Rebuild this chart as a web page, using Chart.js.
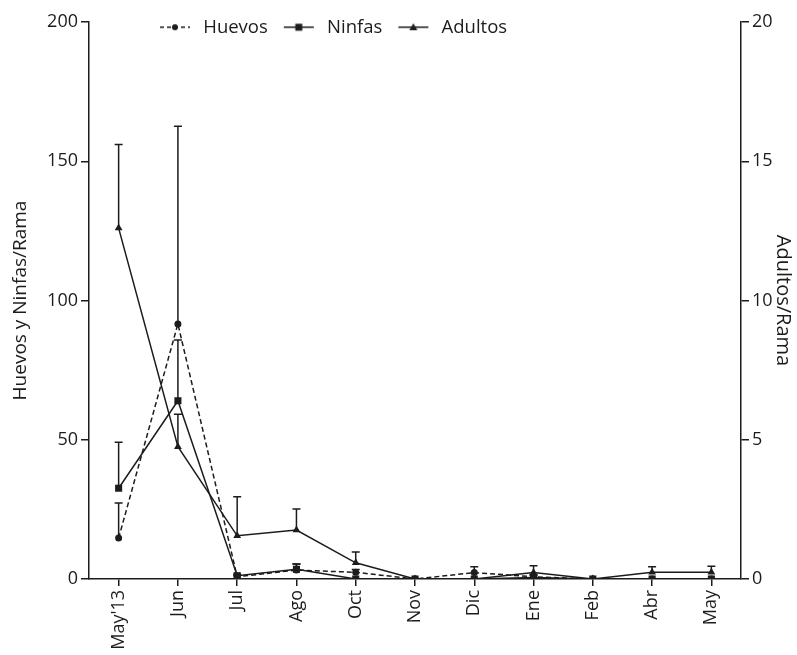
<!DOCTYPE html>
<html>
<head>
<meta charset="utf-8">
<script src="https://cdn.jsdelivr.net/npm/chart.js@4/dist/chart.umd.min.js"></script>
<style>
html,body{margin:0;padding:0;background:#fff;}
#wrap{width:797px;height:655px;position:relative;}
</style>
</head>
<body>
<div id="wrap"><canvas id="c" width="797" height="655"></canvas></div>
<script>
const categories = ["May'13","Jun","Jul","Ago","Oct","Nov","Dic","Ene","Feb","Abr","May"];
const huevos     = [14.7, 91.6, 0.8, 3.2, 2.4, 0, 2.3, 0.8, 0, 0, 0];
const huevosErr  = [12.6, 71.0, 0.5, 2.2, 1.0, 0, 2.1, 0.5, 0, 0, 0];
const ninfas     = [32.6, 64.0, 1.2, 3.5, 0, 0, 0, 0.5, 0, 0, 0];
const ninfasErr  = [16.5, 21.8, 0.5, 1.9, 0, 0, 0, 1.0, 0, 0, 0];
const adultos    = [12.6, 4.75, 1.55, 1.76, 0.58, 0, 0, 0.23, 0, 0.24, 0.24];
const adultosErr = [3.0, 1.17, 1.4, 0.75, 0.39, 0, 0, 0.25, 0, 0.2, 0.22];
const leftTicks  = [0, 50, 100, 150, 200];
const rightTicks = [0, 5, 10, 15, 20];

const INK = '#1c1c1c';
const FONT = "'Open Sans', sans-serif";

function legendIcon(style, dashed) {
  const c = document.createElement('canvas');
  c.width = 36; c.height = 12;
  const g = c.getContext('2d');
  g.strokeStyle = INK; g.fillStyle = INK; g.lineWidth = 1.5;
  if (dashed) g.setLineDash([4, 3]);
  g.beginPath(); g.moveTo(2, 6); g.lineTo(32, 6); g.stroke();
  g.setLineDash([]);
  g.beginPath();
  if (style === 'circle') { g.arc(17, 6, 3, 0, Math.PI * 2); }
  else if (style === 'rect') { g.rect(13.5, 2.5, 7, 7); }
  else { g.moveTo(17, 2); g.lineTo(21, 9); g.lineTo(13, 9); g.closePath(); }
  g.fill();
  return c;
}
const icons = [legendIcon('circle', true), legendIcon('rect', false), legendIcon('triangle', false)];

const errorBars = {
  id: 'errorBars',
  beforeDatasetsDraw(chart) {
    const ctx = chart.ctx;
    const xs = chart.scales.x;
    chart.data.datasets.forEach((ds) => {
      if (!ds.err) return;
      const ys = chart.scales[ds.yAxisID];
      ctx.save();
      ctx.strokeStyle = INK; ctx.lineWidth = 1.5; ctx.setLineDash([]);
      ds.data.forEach((v, i) => {
        const e = ds.err[i];
        if (!e) return;
        const x = xs.getPixelForValue(i);
        const y0 = ys.getPixelForValue(v);
        const y1 = ys.getPixelForValue(v + e);
        ctx.beginPath();
        ctx.moveTo(x, y0); ctx.lineTo(x, y1);
        ctx.moveTo(x - 4, y1); ctx.lineTo(x + 4, y1);
        ctx.stroke();
      });
      ctx.restore();
    });
  }
};

const legendPlace = {
  id: 'legendPlace',
  beforeLayout(chart) {
    const lg = chart.legend;
    if (lg && !lg._patched) {
      const f = lg.fit;
      lg.fit = function () { f.call(this); this.height = 0; };
      lg._patched = true;
    }
  },
  afterLayout(chart) {
    const lg = chart.legend;
    if (lg) { lg.left = 144; lg.right = 797; lg.width = 653; lg.top = 4; lg.height = 40; lg.bottom = 44; }
  }
};

new Chart(document.getElementById('c'), {
  type: 'line',
  data: {
    labels: categories,
    datasets: [
      { label: 'Huevos', data: huevos, err: huevosErr, yAxisID: 'y',
        borderColor: INK, backgroundColor: INK, borderWidth: 1.5, borderDash: [5, 3],
        pointStyle: 'circle', pointRadius: 3.5, pointBorderWidth: 0, tension: 0 },
      { label: 'Ninfas', data: ninfas, err: ninfasErr, yAxisID: 'y',
        borderColor: INK, backgroundColor: INK, borderWidth: 1.5,
        pointStyle: 'rect', pointRadius: 5, pointBorderWidth: 0, tension: 0 },
      { label: 'Adultos', data: adultos, err: adultosErr, yAxisID: 'y2',
        borderColor: INK, backgroundColor: INK, borderWidth: 1.5,
        pointStyle: 'triangle', pointRadius: 4.5, pointBorderWidth: 0, tension: 0 }
    ]
  },
  options: {
    responsive: false,
    animation: false,
    layout: { padding: { top: 22, left: 0, right: 0, bottom: 0 } },
    plugins: {
      tooltip: { enabled: false },
      legend: {
        display: true,
        position: 'top',
        align: 'start',
        labels: {
          usePointStyle: true,
          pointStyleWidth: 36,
          padding: 14,
          color: INK,
          font: { family: FONT, size: 18.5 },
          generateLabels(chart) {
            const items = Chart.defaults.plugins.legend.labels.generateLabels(chart);
            items.forEach((it, i) => { it.pointStyle = icons[i]; it.lineWidth = 0; });
            return items;
          }
        }
      }
    },
    scales: {
      x: {
        type: 'category',
        offset: true,
        afterFit(s) { s.height = 76; },
        grid: { display: true, drawOnChartArea: false, drawTicks: true, tickLength: 7, color: INK, lineWidth: 1.5, offset: false },
        border: { display: true, color: INK, width: 1.5 },
        ticks: { color: INK, font: { family: FONT, size: 18 }, minRotation: 90, maxRotation: 90, autoSkip: false, padding: 4 }
      },
      y: {
        position: 'left',
        min: 0, max: 200,
        afterFit(s) { s.width = 89; },
        afterBuildTicks(s) { s.ticks = leftTicks.map(v => ({ value: v })); },
        grid: { display: true, drawOnChartArea: false, drawTicks: true, tickLength: 8, color: INK, lineWidth: 1.5 },
        border: { display: true, color: INK, width: 1.5 },
        ticks: { color: INK, font: { family: FONT, size: 18 }, padding: 3 },
        title: { display: true, text: 'Huevos y Ninfas/Rama', color: INK, font: { family: FONT, size: 19 }, padding: { top: 9, bottom: 0 } }
      },
      y2: {
        position: 'right',
        min: 0, max: 20,
        afterFit(s) { s.width = 56; },
        afterBuildTicks(s) { s.ticks = rightTicks.map(v => ({ value: v })); },
        grid: { display: true, drawOnChartArea: false, drawTicks: true, tickLength: 8, color: INK, lineWidth: 1.5 },
        border: { display: true, color: INK, width: 1.5 },
        ticks: { color: INK, font: { family: FONT, size: 18 }, padding: 3 },
        title: { display: true, text: 'Adultos/Rama', color: INK, font: { family: FONT, size: 20 }, padding: { top: 2, bottom: 0 } }
      }
    }
  },
  plugins: [errorBars, legendPlace]
});
</script>
</body>
</html>
